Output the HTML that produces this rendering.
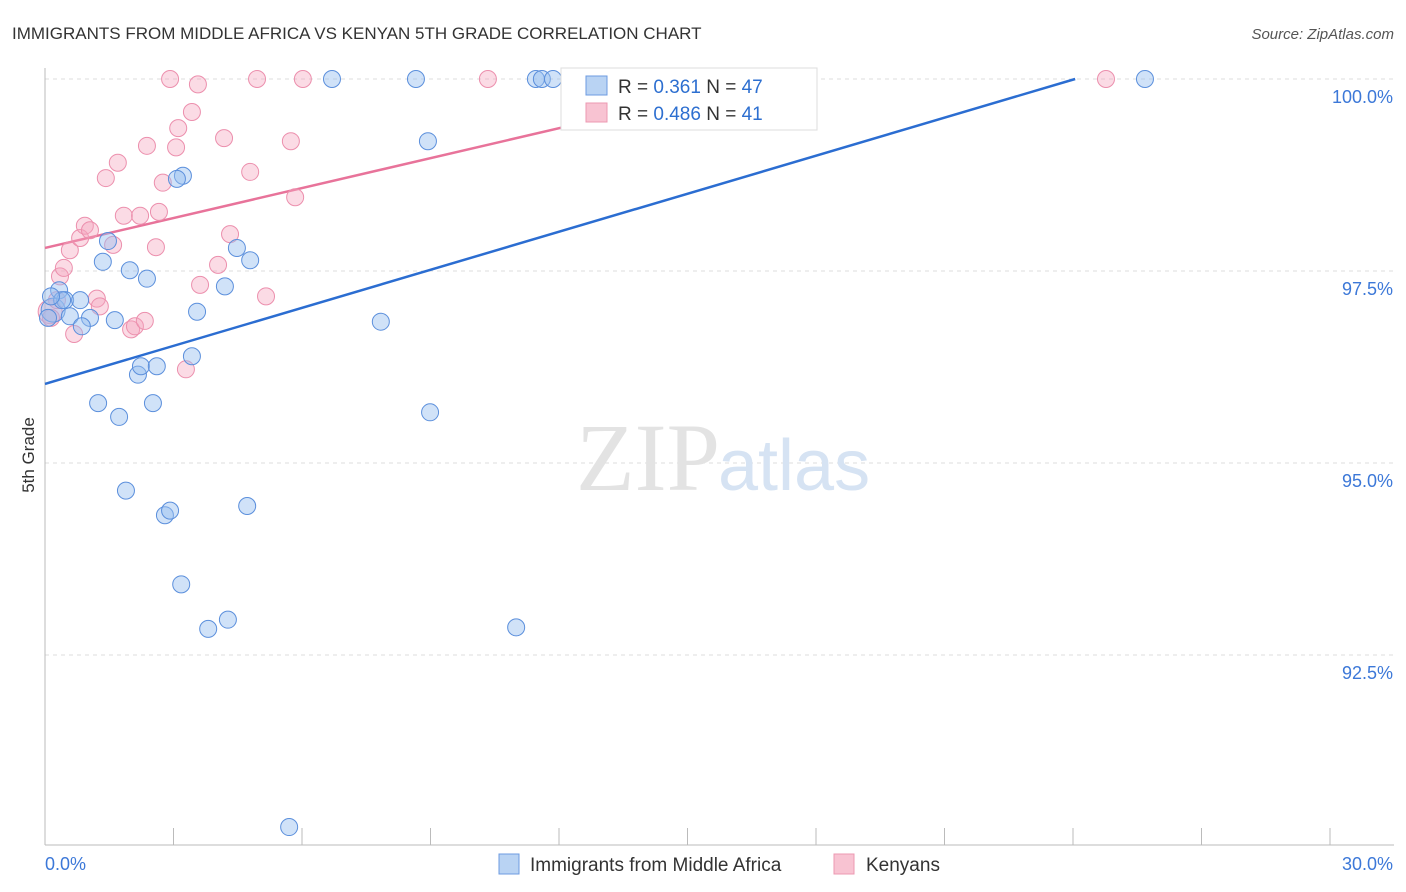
<!DOCTYPE html>
<html><head><meta charset="utf-8"><style>
body{margin:0;background:#fff;font-family:"Liberation Sans",sans-serif;}
svg{display:block}
</style></head><body>
<svg id="chart" width="1406" height="892" font-family="Liberation Sans, sans-serif">
<text x="12" y="39" font-size="17" fill="#333">IMMIGRANTS FROM MIDDLE AFRICA VS KENYAN 5TH GRADE CORRELATION CHART</text>
<text x="1394" y="39" font-size="15" fill="#555" text-anchor="end" font-style="italic">Source: ZipAtlas.com</text>
<text x="34" y="455" font-size="17" fill="#333" text-anchor="middle" transform="rotate(-90 34 455)">5th Grade</text>
<g id="grid"></g>
<g id="axes"></g>
<text x="720" y="490" font-size="96" fill="#e3e3e3" text-anchor="end" font-family="Liberation Serif, serif">ZIP</text>
<text x="718" y="490" font-size="72" fill="#d6e3f3">atlas</text>
<g id="lines"></g>
<g id="points"></g>
<g>
<rect x="561" y="68" width="256" height="62" fill="#fff" stroke="#ddd"/>
<rect x="586" y="76" width="21" height="19" fill="#b9d3f3" stroke="#6d9be0"/>
<rect x="586" y="103" width="21" height="19" fill="#f8c3d2" stroke="#ec98b2"/>
<text x="618" y="93" font-size="19" fill="#333">R = <tspan fill="#2d6fd0">0.361</tspan>   N = <tspan fill="#2d6fd0">47</tspan></text>
<text x="618" y="120" font-size="19" fill="#333">R = <tspan fill="#2d6fd0">0.486</tspan>   N = <tspan fill="#2d6fd0">41</tspan></text>
</g>
<g>
<rect x="499" y="854" width="20" height="20" fill="#b9d3f3" stroke="#6d9be0"/>
<text x="530" y="871" font-size="19" fill="#333">Immigrants from Middle Africa</text>
<rect x="834" y="854" width="20" height="20" fill="#f8c3d2" stroke="#ec98b2"/>
<text x="866" y="871" font-size="19" fill="#333">Kenyans</text>
</g>
</svg>
<script>
const xTickLabels=["0.0%","30.0%"];
const yTicks=[100,97.5,95,92.5];
const yTickLabels=["100.0%","97.5%","95.0%","92.5%"];
const blueX=[0.19,0.33,0.47,0.58,1.05,0.86,1.63,1.35,1.98,2.38,1.47,2.17,2.24,2.61,3.43,3.55,4.20,4.48,4.79,3.22,3.08,1.24,1.73,2.52,1.89,2.80,2.92,4.72,3.18,3.81,4.27,5.70,6.70,8.66,8.94,7.84,8.99,11.0,11.46,11.60,11.86,25.68,0.40,0.07,0.82,0.14];
const blueY=[96.99,97.25,97.12,96.91,96.89,96.78,96.86,97.62,97.51,97.40,97.89,96.15,96.26,96.26,96.39,96.97,97.30,97.80,97.64,98.74,98.70,95.78,95.60,95.78,94.64,94.32,94.38,94.44,93.42,92.84,92.96,90.26,100,100,99.19,96.84,95.66,92.86,100,100,100,100,97.12,96.89,97.12,97.17];
const pinkX=[0.12,0.28,0.35,0.44,0.58,0.82,0.93,1.05,0.68,1.21,1.28,1.59,1.42,1.70,1.84,2.22,2.59,2.66,2.38,3.06,3.11,2.75,2.92,3.57,3.43,4.18,4.79,4.32,4.04,3.62,5.16,2.01,2.10,2.33,3.29,4.95,6.02,5.74,5.84,10.34,24.77,0.14];
const pinkY=[96.97,97.12,97.43,97.54,97.77,97.93,98.09,98.03,96.68,97.14,97.04,97.84,98.71,98.91,98.22,98.22,97.81,98.27,99.13,99.11,99.36,98.65,100,99.93,99.57,99.23,98.79,97.98,97.58,97.32,97.17,96.74,96.78,96.85,96.22,100,100,99.19,98.46,100,100,96.89];
const blueTrend=[96.03,24.05];   // intercept, x where reaches 100
const pinkTrend=[97.80,16.93];
const NS="http://www.w3.org/2000/svg";
const X=v=>45+v/30*1285;
const Y=v=>79+(100-v)/2.5*192;
function mk(tag,attrs,parent){const e=document.createElementNS(NS,tag);for(const k in attrs)e.setAttribute(k,attrs[k]);parent.appendChild(e);return e;}
const grid=document.getElementById('grid'),axes=document.getElementById('axes');
yTicks.forEach((t,i)=>{
 const l=mk('line',{x1:45,x2:1394,y1:Y(t),y2:Y(t),stroke:'#ddd','stroke-dasharray':'4,4'},grid);
 
 
 const tx=mk('text',{x:1393,y:Y(t)+24,'font-size':18,fill:'#3c78d8','text-anchor':'end'},axes);
 tx.textContent=yTickLabels[i];
 
 
});
const ya=mk('line',{x1:45,x2:45,y1:68,y2:845,stroke:'#bbb'},axes);


const xa=mk('line',{x1:45,x2:1394,y1:845,y2:845,stroke:'#bbb'},axes);


for(let i=1;i<=10;i++){
 const t=mk('line',{x1:X(i*3),x2:X(i*3),y1:828,y2:845,stroke:'#bbb'},axes);
 
 
}
[[0,'start',45],[30,'end',1393]].forEach((d,i)=>{
 const t=mk('text',{x:d[2],y:870,'font-size':18,fill:'#3c78d8','text-anchor':d[1]},axes);
 t.textContent=xTickLabels[i];
 
 
});
const lines=document.getElementById('lines');
const bl=mk('line',{x1:X(0),y1:Y(blueTrend[0]),x2:X(blueTrend[1]),y2:Y(100),stroke:'#2b6dd1','stroke-width':2.5},lines);


const pl=mk('line',{x1:X(0),y1:Y(pinkTrend[0]),x2:X(pinkTrend[1]),y2:Y(100),stroke:'#e8739a','stroke-width':2.5},lines);


const pts=document.getElementById('points');
pinkX.forEach((x,i)=>{
 const c=mk('circle',{cx:X(x),cy:Y(pinkY[i]),r:i===0?12:8.5,fill:'rgba(244,164,190,0.4)',stroke:'#ec8fad','stroke-width':1},pts);
 
 
});
blueX.forEach((x,i)=>{
 const c=mk('circle',{cx:X(x),cy:Y(blueY[i]),r:i===0?12:8.5,fill:'rgba(150,190,240,0.45)',stroke:'#5b8fdc','stroke-width':1},pts);
 
 
});
</script>
</body></html>
